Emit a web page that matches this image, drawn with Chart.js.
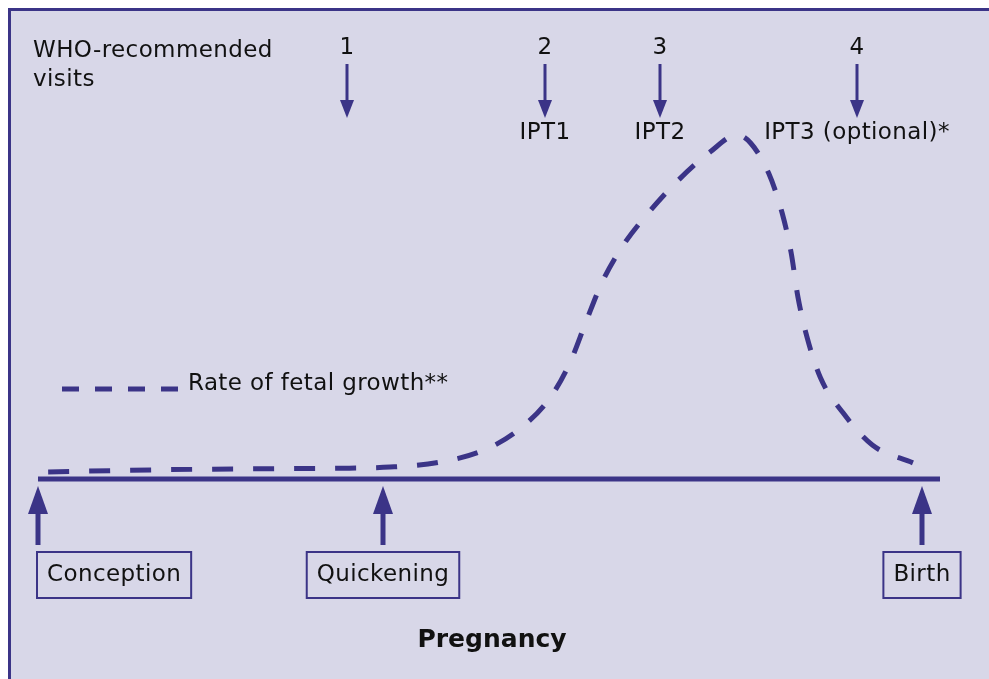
<!DOCTYPE html>
<html>
<head>
<meta charset="utf-8">
<script src="https://cdn.jsdelivr.net/npm/chart.js@4/dist/chart.umd.min.js"></script>
<style>
  body { margin: 0; background: #ffffff; }
  canvas { display: block; }
</style>
</head>
<body>
<canvas id="myChart" width="989" height="679"></canvas>
<script>
// Данные: неделя беременности и скорость роста плода (условные единицы)
const growthWeeks = [0.45, 5.0, 9.4, 13.8, 15.6, 17.9, 19.8, 21.3, 22.7, 23.6, 24.3, 25.0, 25.9, 27.1, 28.4, 29.8, 31.0, 31.6, 32.4, 33.0, 33.4, 33.7, 34.1, 34.7, 35.7, 37.0, 38.8];
const growthRate = [2.0, 2.6, 2.9, 3.1, 3.4, 4.9, 8.3, 14.0, 23.1, 33.4, 44.9, 56.0, 66.3, 76.3, 85.4, 93.4, 98.3, 96.0, 87.4, 76.0, 64.6, 52.0, 40.6, 28.9, 18.9, 9.7, 4.6];

// Визиты ВОЗ
const visitLabels = ['1', '2', '3', '4'];
const visitWeeks = [13.7, 22.5, 27.6, 36.3];
const iptLabels = ['', 'IPT1', 'IPT2', 'IPT3 (optional)*'];

// События беременности
const eventLabels = ['Conception', 'Quickening', 'Birth'];
const eventWeeks = [0, 15.3, 39.2];

const ink = '#3b3487';
const bg = '#d8d7e8';
const font = '"DejaVu Sans", sans-serif';

// Фон и рамка
const backgroundPlugin = {
    id: 'bgFrame',
    beforeDraw(chart) {
        const ctx = chart.ctx;
        ctx.save();
        ctx.fillStyle = '#ffffff';
        ctx.fillRect(0, 0, chart.width, chart.height);
        ctx.fillStyle = bg;
        ctx.fillRect(9, 9, chart.width, chart.height);
        ctx.strokeStyle = ink;
        ctx.lineWidth = 3;
        ctx.strokeRect(9.5, 9.5, chart.width + 10, chart.height + 10);
        ctx.restore();
    }
};

// Стрелки, подписи, легенда
const annotationsPlugin = {
    id: 'annotations',
    afterDatasetsDraw(chart) {
        const ctx = chart.ctx;
        const x = chart.scales.x;
        const y0 = chart.scales.y.getPixelForValue(0);
        ctx.save();
        ctx.fillStyle = '#111111';
        ctx.font = '23px ' + font;
        ctx.letterSpacing = '0.4px';
        ctx.textBaseline = 'middle';
        ctx.textAlign = 'left';
        ctx.fillText('WHO-recommended', 33, 51);
        ctx.fillText('visits', 33, 80);

        // Визиты — стрелки вниз
        ctx.textAlign = 'center';
        visitWeeks.forEach((w, i) => {
            const px = Math.round(x.getPixelForValue(w));
            ctx.fillStyle = '#111111';
            ctx.fillText(visitLabels[i], px, 48);
            ctx.strokeStyle = ink;
            ctx.lineWidth = 3;
            ctx.beginPath();
            ctx.moveTo(px, 64);
            ctx.lineTo(px, 102);
            ctx.stroke();
            ctx.fillStyle = ink;
            ctx.beginPath();
            ctx.moveTo(px - 7, 100);
            ctx.lineTo(px + 7, 100);
            ctx.lineTo(px, 118);
            ctx.closePath();
            ctx.fill();
            if (iptLabels[i]) {
                ctx.fillStyle = '#111111';
                ctx.fillText(iptLabels[i], px, 133);
            }
        });

        // События — стрелки вверх и рамки
        eventWeeks.forEach((w, i) => {
            const px = Math.round(x.getPixelForValue(w));
            ctx.strokeStyle = ink;
            ctx.lineWidth = 5;
            ctx.beginPath();
            ctx.moveTo(px, 545);
            ctx.lineTo(px, 510);
            ctx.stroke();
            ctx.fillStyle = ink;
            ctx.beginPath();
            ctx.moveTo(px - 10, 514);
            ctx.lineTo(px + 10, 514);
            ctx.lineTo(px, y0 + 7);
            ctx.closePath();
            ctx.fill();

            const tw = ctx.measureText(eventLabels[i]).width;
            const bw = tw + 20;
            let left = px - bw / 2;
            if (left < 37) left = 37;
            ctx.lineWidth = 2;
            ctx.strokeRect(left, 552, bw, 46);
            ctx.fillStyle = '#111111';
            ctx.fillText(eventLabels[i], left + bw / 2, 575);
        });

        // Легенда
        ctx.strokeStyle = ink;
        ctx.lineWidth = 5;
        ctx.setLineDash([17, 16]);
        ctx.beginPath();
        ctx.moveTo(62, 389);
        ctx.lineTo(178, 389);
        ctx.stroke();
        ctx.setLineDash([]);
        ctx.fillStyle = '#111111';
        ctx.textAlign = 'left';
        ctx.fillText('Rate of fetal growth**', 188, 384);

        // Подпись оси
        ctx.textAlign = 'center';
        ctx.letterSpacing = '0px';
        ctx.font = 'bold 25px ' + font;
        ctx.fillText('Pregnancy', 492, 640);
        ctx.restore();
    }
};

const ctx = document.getElementById('myChart').getContext('2d');
const myChart = new Chart(ctx, {
    type: 'line',
    data: {
        datasets: [{
            label: 'Rate of fetal growth**',
            data: growthWeeks.map((w, i) => ({ x: w, y: growthRate[i] })),
            borderColor: ink,
            borderWidth: 5,
            borderDash: [21, 20],
            pointRadius: 0,
            cubicInterpolationMode: 'monotone',
            clip: 10,
            fill: false
        }, {
            label: 'Pregnancy',
            data: [{ x: 0, y: 0 }, { x: 40, y: 0 }],
            borderColor: ink,
            borderWidth: 5,
            pointRadius: 0,
            clip: 10,
            fill: false
        }]
    },
    options: {
        responsive: false,
        animation: false,
        layout: { padding: { left: 38, right: 49, top: 129, bottom: 200 } },
        plugins: {
            legend: { display: false },
            tooltip: { enabled: false }
        },
        scales: {
            x: { type: 'linear', min: 0, max: 40, display: false },
            y: { min: 0, max: 100, display: false }
        }
    },
    plugins: [backgroundPlugin, annotationsPlugin]
});
</script>
</body>
</html>
